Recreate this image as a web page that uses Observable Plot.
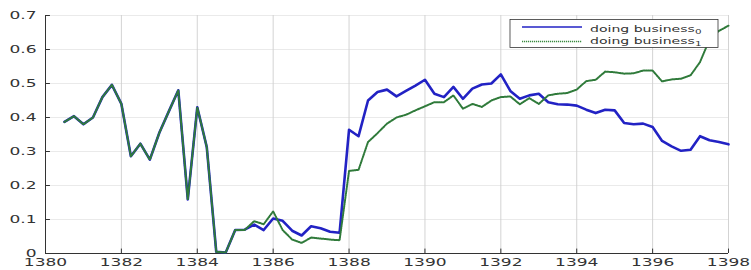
<!DOCTYPE html>
<html>
<head>
<meta charset="utf-8">
<script src="https://cdn.jsdelivr.net/npm/d3@7"></script>
<script src="https://cdn.jsdelivr.net/npm/@observablehq/plot@0.6"></script>
<style>
  html, body { margin: 0; padding: 0; background: #fff; }
  #chart { width: 751px; height: 270px; }
</style>
</head>
<body>
<div id="chart"></div>
<script>
// Quarterly time points (Persian calendar years)
const quarters = [
  1380.5, 1380.75, 1381, 1381.25, 1381.5, 1381.75, 1382, 1382.25, 1382.5, 1382.75,
  1383, 1383.25, 1383.5, 1383.75, 1384, 1384.25, 1384.5, 1384.75, 1385, 1385.25,
  1385.5, 1385.75, 1386, 1386.25, 1386.5, 1386.75, 1387, 1387.25, 1387.5, 1387.75,
  1388, 1388.25, 1388.5, 1388.75, 1389, 1389.25, 1389.5, 1389.75, 1390, 1390.25,
  1390.5, 1390.75, 1391, 1391.25, 1391.5, 1391.75, 1392, 1392.25, 1392.5, 1392.75,
  1393, 1393.25, 1393.5, 1393.75, 1394, 1394.25, 1394.5, 1394.75, 1395, 1395.25,
  1395.5, 1395.75, 1396, 1396.25, 1396.5, 1396.75, 1397, 1397.25, 1397.5, 1397.75,
  1398
];

const business0 = [
  0.387, 0.404, 0.380, 0.400, 0.460, 0.496, 0.440, 0.286, 0.323, 0.276,
  0.355, 0.418, 0.480, 0.159, 0.430, 0.313, 0.005, 0.003, 0.069, 0.070,
  0.085, 0.069, 0.103, 0.096, 0.067, 0.053, 0.080, 0.074, 0.064, 0.061,
  0.364, 0.345, 0.450, 0.475, 0.482, 0.462, 0.478, 0.494, 0.511, 0.470,
  0.460, 0.490, 0.455, 0.485, 0.497, 0.500, 0.527, 0.478, 0.455, 0.465,
  0.470, 0.445, 0.439, 0.438, 0.435, 0.423, 0.413, 0.423, 0.421, 0.384,
  0.380, 0.382, 0.372, 0.331, 0.315, 0.302, 0.305, 0.345, 0.333, 0.328,
  0.321
];

const business1 = [
  0.387, 0.404, 0.380, 0.400, 0.460, 0.496, 0.440, 0.286, 0.323, 0.276,
  0.355, 0.418, 0.480, 0.159, 0.430, 0.313, 0.005, 0.003, 0.069, 0.069,
  0.095, 0.086, 0.124, 0.069, 0.041, 0.031, 0.047, 0.044, 0.041, 0.039,
  0.243, 0.246, 0.328, 0.354, 0.382, 0.400, 0.408, 0.421, 0.433, 0.445,
  0.445, 0.465, 0.426, 0.440, 0.431, 0.450, 0.460, 0.462, 0.439, 0.457,
  0.440, 0.465, 0.470, 0.472, 0.482, 0.507, 0.511, 0.535, 0.533, 0.529,
  0.530, 0.538, 0.538, 0.506, 0.512, 0.514, 0.524, 0.563, 0.630, 0.655,
  0.670
];

const xTicks = [1380, 1382, 1384, 1386, 1388, 1390, 1392, 1394, 1396, 1398];
const yTicks = [0, 0.1, 0.2, 0.3, 0.4, 0.5, 0.6, 0.7];
const seriesNames = ["doing business", "doing business"];
const seriesSubs = ["0", "1"];

const data0 = quarters.map((t, i) => ({t, v: business0[i]}));
const data1 = quarters.map((t, i) => ({t, v: business1[i]}));

const blue = "#2222c4";
const green = "#2f7a3a";
const axisColor = "#333";

const chart = Plot.plot({
  width: 751,
  height: 270,
  marginLeft: 45,
  marginRight: 23,
  marginTop: 15,
  marginBottom: 17,
  style: {fontFamily: "DejaVu Sans", fontSize: "11px", background: "#fff", color: "#333"},
  x: {domain: [1380, 1398], label: null},
  y: {domain: [0, 0.7], label: null},
  marks: [
    Plot.gridX(xTicks, {stroke: "#c8c8c8", strokeOpacity: 0.8}),
    Plot.gridY(yTicks, {stroke: "#d0d0d0", strokeOpacity: 0.45}),
    Plot.axisX(xTicks, {tickSize: 0, tickPadding: 5, fill: "#333", fontSize: 11, tickFormat: d => String(d)}),
    Plot.axisY(yTicks, {tickSize: 0, tickPadding: 9, fill: "#333", fontSize: 11, tickFormat: d => String(d)}),
    Plot.ruleX(xTicks, {y1: 0, y2: 0.013, stroke: axisColor}),
    Plot.ruleY(yTicks, {x1: 1380, x2: 1380.13, stroke: axisColor}),
    Plot.ruleX([1380], {stroke: axisColor}),
    Plot.ruleY([0], {stroke: axisColor}),
    Plot.line(data0, {x: "t", y: "v", stroke: blue, strokeWidth: 2.6}),
    Plot.line(data1, {x: "t", y: "v", stroke: green, strokeWidth: 2, strokeDasharray: "1.1,1.1"})
  ]
});

const svg = d3.select(chart);
// Stretch tick labels horizontally like the reference
svg.selectAll("text").each(function () {
  const el = this;
  let t = el.getAttribute("transform");
  if (!t) {
    const x = +el.getAttribute("x") || 0;
    const y = +el.getAttribute("y") || 0;
    el.removeAttribute("x");
    el.setAttribute("y", "0");
    t = `translate(${x},${y})`;
  }
  el.setAttribute("transform", t + " scale(1.55,1)");
});

// Legend (drawn inside the plot area, top right)
const lg = svg.append("g").attr("font-family", "DejaVu Sans").attr("text-anchor", "start");
lg.append("rect")
  .attr("x", 510).attr("y", 19.5).attr("width", 208).attr("height", 28)
  .attr("fill", "#fff").attr("stroke", "#333").attr("stroke-width", 0.8);
const rows = [
  {name: seriesNames[0], sub: seriesSubs[0], color: blue, dash: null, ly: 27, ty: 31.5, w: 1.3},
  {name: seriesNames[1], sub: seriesSubs[1], color: "#3a8a40", dash: "1.2,0.8", ly: 41.5, ty: 44, w: 1.6}
];
rows.forEach(r => {
  const ln = lg.append("line")
    .attr("x1", 522).attr("x2", 582).attr("y1", r.ly).attr("y2", r.ly)
    .attr("stroke", r.color).attr("stroke-width", r.w);
  if (r.dash) ln.attr("stroke-dasharray", r.dash);
  const tx = lg.append("text")
    .attr("transform", `translate(590,${r.ty}) scale(1.48,1)`)
    .attr("font-size", 9.5).attr("fill", "#333");
  tx.append("tspan").text(r.name);
  tx.append("tspan").attr("font-size", 7).attr("dy", 2).text(r.sub);
});

document.getElementById("chart").appendChild(chart);
</script>
</body>
</html>
